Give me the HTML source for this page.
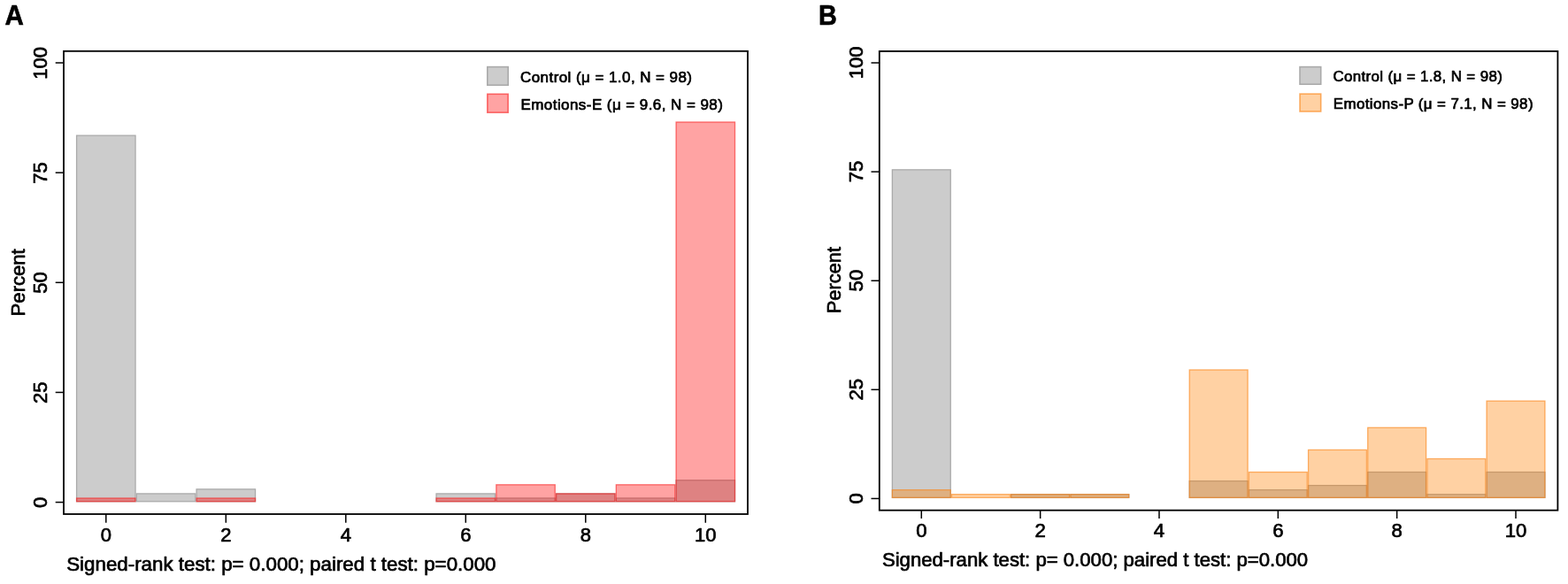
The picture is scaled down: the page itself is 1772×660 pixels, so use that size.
<!DOCTYPE html>
<html lang="en">
<head>
<meta charset="utf-8">
<title>Figure</title>
<style>
html,body{margin:0;padding:0;background:#fff;}
body{width:1772px;height:660px;overflow:hidden;}
svg{display:block;}
svg text{font-family:"Liberation Sans", sans-serif;fill:#000;stroke:#000;stroke-width:0.7px;stroke-linejoin:round;}
</style>
</head>
<body>
<svg width="1772" height="660" viewBox="0 0 1772 660">
<rect x="0" y="0" width="1772" height="660" fill="#ffffff"/>
<g id="panel-a">
<rect x="86.58" y="153.15" width="66.45" height="413.60" fill="#cccccc" stroke="#aaaaaa" stroke-width="1.3"/>
<rect x="154.33" y="557.93" width="66.45" height="8.82" fill="#cccccc" stroke="#aaaaaa" stroke-width="1.3"/>
<rect x="222.08" y="552.87" width="66.45" height="13.88" fill="#cccccc" stroke="#aaaaaa" stroke-width="1.3"/>
<rect x="493.07" y="557.93" width="66.45" height="8.82" fill="#cccccc" stroke="#aaaaaa" stroke-width="1.3"/>
<rect x="560.82" y="562.99" width="66.45" height="3.76" fill="#cccccc" stroke="#aaaaaa" stroke-width="1.3"/>
<rect x="628.57" y="557.93" width="66.45" height="8.82" fill="#cccccc" stroke="#aaaaaa" stroke-width="1.3"/>
<rect x="696.32" y="562.99" width="66.45" height="3.76" fill="#cccccc" stroke="#aaaaaa" stroke-width="1.3"/>
<rect x="764.07" y="542.75" width="66.45" height="24.00" fill="#cccccc" stroke="#aaaaaa" stroke-width="1.3"/>
<rect x="86.58" y="562.99" width="66.45" height="3.76" fill="rgba(255,0,0,0.36)" stroke="rgba(248,30,30,0.6)" stroke-width="1.3"/>
<rect x="222.08" y="562.99" width="66.45" height="3.76" fill="rgba(255,0,0,0.36)" stroke="rgba(248,30,30,0.6)" stroke-width="1.3"/>
<rect x="493.07" y="562.99" width="66.45" height="3.76" fill="rgba(255,0,0,0.36)" stroke="rgba(248,30,30,0.6)" stroke-width="1.3"/>
<rect x="560.82" y="547.81" width="66.45" height="18.94" fill="rgba(255,0,0,0.36)" stroke="rgba(248,30,30,0.6)" stroke-width="1.3"/>
<rect x="628.57" y="557.93" width="66.45" height="8.82" fill="rgba(255,0,0,0.36)" stroke="rgba(248,30,30,0.6)" stroke-width="1.3"/>
<rect x="696.32" y="547.81" width="66.45" height="18.94" fill="rgba(255,0,0,0.36)" stroke="rgba(248,30,30,0.6)" stroke-width="1.3"/>
<rect x="764.07" y="137.97" width="66.45" height="428.78" fill="rgba(255,0,0,0.36)" stroke="rgba(248,30,30,0.6)" stroke-width="1.3"/>
<rect x="72" y="57.8" width="773.00" height="523.20" fill="none" stroke="#000" stroke-width="1.8"/>
<line x1="62.70" y1="567.60" x2="72" y2="567.60" stroke="#000" stroke-width="1.5"/>
<text transform="translate(52.70,567.90) rotate(-90)" text-anchor="middle" font-size="22.0">0</text>
<line x1="62.70" y1="443.45" x2="72" y2="443.45" stroke="#000" stroke-width="1.5"/>
<text transform="translate(52.70,443.75) rotate(-90)" text-anchor="middle" font-size="22.0">25</text>
<line x1="62.70" y1="319.30" x2="72" y2="319.30" stroke="#000" stroke-width="1.5"/>
<text transform="translate(52.70,319.60) rotate(-90)" text-anchor="middle" font-size="22.0">50</text>
<line x1="62.70" y1="195.15" x2="72" y2="195.15" stroke="#000" stroke-width="1.5"/>
<text transform="translate(52.70,195.45) rotate(-90)" text-anchor="middle" font-size="22.0">75</text>
<line x1="62.70" y1="71.00" x2="72" y2="71.00" stroke="#000" stroke-width="1.5"/>
<text transform="translate(52.70,71.30) rotate(-90)" text-anchor="middle" font-size="22.0">100</text>
<line x1="119.80" y1="581.0" x2="119.80" y2="590.80" stroke="#000" stroke-width="1.5"/>
<text x="119.80" y="612.30" text-anchor="middle" font-size="22.0">0</text>
<line x1="255.30" y1="581.0" x2="255.30" y2="590.80" stroke="#000" stroke-width="1.5"/>
<text x="255.30" y="612.30" text-anchor="middle" font-size="22.0">2</text>
<line x1="390.80" y1="581.0" x2="390.80" y2="590.80" stroke="#000" stroke-width="1.5"/>
<text x="390.80" y="612.30" text-anchor="middle" font-size="22.0">4</text>
<line x1="526.30" y1="581.0" x2="526.30" y2="590.80" stroke="#000" stroke-width="1.5"/>
<text x="526.30" y="612.30" text-anchor="middle" font-size="22.0">6</text>
<line x1="661.80" y1="581.0" x2="661.80" y2="590.80" stroke="#000" stroke-width="1.5"/>
<text x="661.80" y="612.30" text-anchor="middle" font-size="22.0">8</text>
<line x1="797.30" y1="581.0" x2="797.30" y2="590.80" stroke="#000" stroke-width="1.5"/>
<text x="797.30" y="612.30" text-anchor="middle" font-size="22.0">10</text>
<text transform="translate(28.30,319.30) rotate(-90)" text-anchor="middle" font-size="22.1">Percent</text>
<text x="75.20" y="645.00" font-size="22.33">Signed-rank test: p= 0.000; paired t test: p=0.000</text>
<text transform="translate(5.60,28.00) scale(0.945,1)" font-size="31.3" font-weight="bold" style="stroke-width:0.6px">A</text>
<rect x="550.80" y="75.60" width="23.40" height="20.60" fill="#cccccc" stroke="#aaaaaa" stroke-width="1.6"/>
<text x="588.00" y="93.1" font-size="17.0" letter-spacing="0.432">Control (μ = 1.0, N = 98)</text>
<rect x="550.80" y="106.30" width="23.40" height="20.90" fill="rgba(255,0,0,0.36)" stroke="rgba(248,30,30,0.6)" stroke-width="1.6"/>
<text x="588.49" y="123.9" font-size="17.0" letter-spacing="0.431">Emotions-E (μ = 9.6, N = 98)</text>
</g>
<g id="panel-b">
<rect x="1008.36" y="191.85" width="65.87" height="370.55" fill="#cccccc" stroke="#aaaaaa" stroke-width="1.3"/>
<rect x="1142.70" y="558.68" width="65.87" height="3.72" fill="#cccccc" stroke="#aaaaaa" stroke-width="1.3"/>
<rect x="1209.88" y="558.68" width="65.87" height="3.72" fill="#cccccc" stroke="#aaaaaa" stroke-width="1.3"/>
<rect x="1344.22" y="543.60" width="65.87" height="18.80" fill="#cccccc" stroke="#aaaaaa" stroke-width="1.3"/>
<rect x="1411.38" y="553.65" width="65.87" height="8.75" fill="#cccccc" stroke="#aaaaaa" stroke-width="1.3"/>
<rect x="1478.56" y="548.62" width="65.87" height="13.78" fill="#cccccc" stroke="#aaaaaa" stroke-width="1.3"/>
<rect x="1545.73" y="533.55" width="65.87" height="28.85" fill="#cccccc" stroke="#aaaaaa" stroke-width="1.3"/>
<rect x="1612.89" y="558.68" width="65.87" height="3.72" fill="#cccccc" stroke="#aaaaaa" stroke-width="1.3"/>
<rect x="1680.07" y="533.55" width="65.87" height="28.85" fill="#cccccc" stroke="#aaaaaa" stroke-width="1.3"/>
<rect x="1008.36" y="553.65" width="65.87" height="8.75" fill="rgba(255,127,0,0.36)" stroke="rgba(250,130,20,0.62)" stroke-width="1.3"/>
<rect x="1075.54" y="558.68" width="65.87" height="3.72" fill="rgba(255,127,0,0.36)" stroke="rgba(250,130,20,0.62)" stroke-width="1.3"/>
<rect x="1142.70" y="558.68" width="65.87" height="3.72" fill="rgba(255,127,0,0.36)" stroke="rgba(250,130,20,0.62)" stroke-width="1.3"/>
<rect x="1209.88" y="558.68" width="65.87" height="3.72" fill="rgba(255,127,0,0.36)" stroke="rgba(250,130,20,0.62)" stroke-width="1.3"/>
<rect x="1344.22" y="417.98" width="65.87" height="144.43" fill="rgba(255,127,0,0.36)" stroke="rgba(250,130,20,0.62)" stroke-width="1.3"/>
<rect x="1411.38" y="533.55" width="65.87" height="28.85" fill="rgba(255,127,0,0.36)" stroke="rgba(250,130,20,0.62)" stroke-width="1.3"/>
<rect x="1478.56" y="508.43" width="65.87" height="53.97" fill="rgba(255,127,0,0.36)" stroke="rgba(250,130,20,0.62)" stroke-width="1.3"/>
<rect x="1545.73" y="483.30" width="65.87" height="79.10" fill="rgba(255,127,0,0.36)" stroke="rgba(250,130,20,0.62)" stroke-width="1.3"/>
<rect x="1612.89" y="518.48" width="65.87" height="43.93" fill="rgba(255,127,0,0.36)" stroke="rgba(250,130,20,0.62)" stroke-width="1.3"/>
<rect x="1680.07" y="453.15" width="65.87" height="109.25" fill="rgba(255,127,0,0.36)" stroke="rgba(250,130,20,0.62)" stroke-width="1.3"/>
<rect x="993.8" y="57.9" width="766.60" height="518.80" fill="none" stroke="#000" stroke-width="1.8"/>
<line x1="984.50" y1="563.45" x2="993.8" y2="563.45" stroke="#000" stroke-width="1.5"/>
<text transform="translate(974.60,563.35) rotate(-90)" text-anchor="middle" font-size="22.15">0</text>
<line x1="984.50" y1="440.34" x2="993.8" y2="440.34" stroke="#000" stroke-width="1.5"/>
<text transform="translate(974.60,440.24) rotate(-90)" text-anchor="middle" font-size="22.15">25</text>
<line x1="984.50" y1="317.23" x2="993.8" y2="317.23" stroke="#000" stroke-width="1.5"/>
<text transform="translate(974.60,317.12) rotate(-90)" text-anchor="middle" font-size="22.15">50</text>
<line x1="984.50" y1="194.11" x2="993.8" y2="194.11" stroke="#000" stroke-width="1.5"/>
<text transform="translate(974.60,194.01) rotate(-90)" text-anchor="middle" font-size="22.15">75</text>
<line x1="984.50" y1="71.00" x2="993.8" y2="71.00" stroke="#000" stroke-width="1.5"/>
<text transform="translate(974.60,70.90) rotate(-90)" text-anchor="middle" font-size="22.15">100</text>
<line x1="1041.30" y1="576.7" x2="1041.30" y2="586.00" stroke="#000" stroke-width="1.5"/>
<text x="1041.30" y="607.00" text-anchor="middle" font-size="22.15">0</text>
<line x1="1175.64" y1="576.7" x2="1175.64" y2="586.00" stroke="#000" stroke-width="1.5"/>
<text x="1175.64" y="607.00" text-anchor="middle" font-size="22.15">2</text>
<line x1="1309.98" y1="576.7" x2="1309.98" y2="586.00" stroke="#000" stroke-width="1.5"/>
<text x="1309.98" y="607.00" text-anchor="middle" font-size="22.15">4</text>
<line x1="1444.32" y1="576.7" x2="1444.32" y2="586.00" stroke="#000" stroke-width="1.5"/>
<text x="1444.32" y="607.00" text-anchor="middle" font-size="22.15">6</text>
<line x1="1578.66" y1="576.7" x2="1578.66" y2="586.00" stroke="#000" stroke-width="1.5"/>
<text x="1578.66" y="607.00" text-anchor="middle" font-size="22.15">8</text>
<line x1="1713.00" y1="576.7" x2="1713.00" y2="586.00" stroke="#000" stroke-width="1.5"/>
<text x="1713.00" y="607.00" text-anchor="middle" font-size="22.15">10</text>
<text transform="translate(950.30,316.60) rotate(-90)" text-anchor="middle" font-size="21.9">Percent</text>
<text x="996.90" y="640.10" font-size="22.15">Signed-rank test: p= 0.000; paired t test: p=0.000</text>
<text transform="translate(925.00,27.80) scale(0.93,1)" font-size="31.0" font-weight="bold" style="stroke-width:0.6px">B</text>
<rect x="1469.00" y="75.60" width="23.70" height="19.60" fill="#cccccc" stroke="#aaaaaa" stroke-width="1.6"/>
<text x="1506.40" y="92.2" font-size="16.9" letter-spacing="0.372">Control (μ = 1.8, N = 98)</text>
<rect x="1469.00" y="106.10" width="23.70" height="19.90" fill="rgba(255,127,0,0.36)" stroke="rgba(250,130,20,0.62)" stroke-width="1.6"/>
<text x="1506.80" y="123.1" font-size="16.9" letter-spacing="0.397">Emotions-P (μ = 7.1, N = 98)</text>
</g>
</svg>
</body>
</html>
